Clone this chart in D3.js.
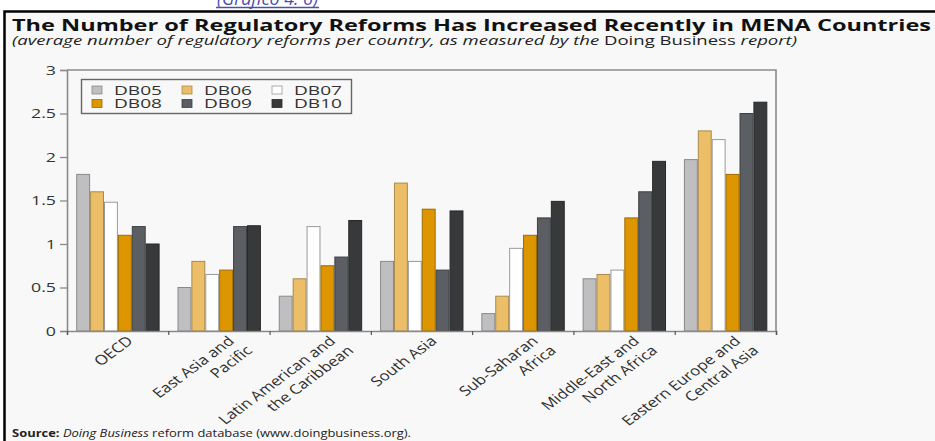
<!DOCTYPE html>
<html>
<head>
<meta charset="utf-8">
<script src="https://cdn.jsdelivr.net/npm/d3@7"></script>
<style>
  html, body { margin: 0; padding: 0; background: #ffffff; }
  svg { display: block; }
  text { font-family: "Open Sans", "Noto Sans", sans-serif; }
</style>
</head>
<body>
<svg id="chart" width="935" height="441"></svg>
<script>
// ---------------- data ----------------
const categories = [
  "OECD",
  "East Asia and\nPacific",
  "Latin American and\nthe Caribbean",
  "South Asia",
  "Sub-Saharan\nAfrica",
  "Middle-East and\nNorth Africa",
  "Eastern Europe and\nCentral Asia"
];
const seriesNames = ["DB05", "DB06", "DB07", "DB08", "DB09", "DB10"];
const DB05 = [1.8, 0.5, 0.4, 0.8, 0.2, 0.6, 1.97];
const DB06 = [1.6, 0.8, 0.6, 1.7, 0.4, 0.65, 2.3];
const DB07 = [1.48, 0.65, 1.2, 0.8, 0.95, 0.7, 2.2];
const DB08 = [1.1, 0.7, 0.75, 1.4, 1.1, 1.3, 1.8];
const DB09 = [1.2, 1.2, 0.85, 0.7, 1.3, 1.6, 2.5];
const DB10 = [1.0, 1.21, 1.27, 1.38, 1.49, 1.95, 2.63];
const yTicks = [0, 0.5, 1, 1.5, 2, 2.5, 3];

const title = "The Number of Regulatory Reforms Has Increased Recently in MENA Countries";
const subtitleParts = [
  ["(average number of regulatory reforms per country, as measured by the ", "italic"],
  ["Doing Business", "normal"],
  [" report)", "italic"]
];
const sourceParts = [
  ["Source:", "bold"],
  [" ", "normal"],
  ["Doing Business", "italic"],
  [" reform database (www.doingbusiness.org).", "normal"]
];
const topNote = "(Gráfico 4. 6)";

// ---------------- styles ----------------
const seriesValues = [DB05, DB06, DB07, DB08, DB09, DB10];
const fills   = ["#bfbfc1", "#ecbe68", "#ffffff", "#dd9500", "#5b5e62", "#38393b"];
const strokes = ["#8a8a8c", "#a88a4c", "#9a9a9a", "#a06c00", "#3e4043", "#27282a"];
const SX = 1.42;   // horizontal stretch of the original picture text
const LSX = 1.25;  // stretch of the rotated category labels

const svg = d3.select("#chart");

// top (cut-off) blue note
svg.append("text")
  .attr("x", 217).attr("y", 5)
  .attr("font-size", 19).attr("font-style", "italic")
  .attr("fill", "#4b4fae")
  .attr("textLength", 101).attr("lengthAdjust", "spacingAndGlyphs")
  .text(topNote);
svg.append("line").attr("x1", 216).attr("x2", 319).attr("y1", 7.5).attr("y2", 7.5)
  .attr("stroke", "#4b4fae").attr("stroke-width", 1.3);

// framed panel
svg.append("rect")
  .attr("x", 4.5).attr("y", 11.5).attr("width", 960).attr("height", 460)
  .attr("fill", "#f8f8f8").attr("stroke", "#000").attr("stroke-width", 2.5);

// title
svg.append("text")
  .attr("x", 12).attr("y", 30.5)
  .attr("font-size", 15.5).attr("font-weight", 700).attr("fill", "#111")
  .attr("textLength", 919).attr("lengthAdjust", "spacingAndGlyphs")
  .text(title);

// subtitle
const sub = svg.append("text")
  .attr("x", 12).attr("y", 44.5)
  .attr("font-size", 12.5).attr("fill", "#222")
  .attr("textLength", 785).attr("lengthAdjust", "spacingAndGlyphs");
subtitleParts.forEach(([t, s]) => sub.append("tspan").attr("font-style", s).text(t));

// source
const src = svg.append("text")
  .attr("x", 12).attr("y", 437)
  .attr("font-size", 10.5).attr("fill", "#222")
  .attr("textLength", 399).attr("lengthAdjust", "spacingAndGlyphs");
sourceParts.forEach(([t, s]) => {
  const ts = src.append("tspan").text(t);
  if (s === "bold") ts.attr("font-weight", 700);
  if (s === "italic") ts.attr("font-style", "italic");
});

// ---------------- scales ----------------
const plot = { left: 67, right: 776, top: 70, bottom: 331 };
const x0 = d3.scaleBand().domain(categories).range([plot.left, plot.right]).padding(0);
const x1 = d3.scaleBand().domain(seriesNames).range([9.2, 92.6]).padding(0);
const y = d3.scaleLinear().domain([0, 3]).range([plot.bottom, plot.top]);

// plot frame (top & right)
svg.append("path")
  .attr("d", `M${plot.left},${plot.top}H${plot.right}V${plot.bottom}`)
  .attr("fill", "none").attr("stroke", "#8a8a8a").attr("stroke-width", 1.6);

// bars
const groups = svg.append("g").selectAll("g")
  .data(categories).join("g")
  .attr("transform", d => `translate(${x0(d)},0)`);
groups.selectAll("rect")
  .data((d, i) => seriesNames.map((s, j) => ({ s, j, v: seriesValues[j][i] })))
  .join("rect")
  .attr("x", d => x1(d.s) + 0.5)
  .attr("width", x1.bandwidth() - 1)
  .attr("y", d => y(d.v))
  .attr("height", d => y(0) - y(d.v))
  .attr("fill", d => fills[d.j])
  .attr("stroke", d => strokes[d.j])
  .attr("stroke-width", 1);

// y axis
const yAxis = svg.append("g")
  .attr("transform", `translate(${plot.left},0)`)
  .call(d3.axisLeft(y).tickValues(yTicks).tickFormat(d3.format("~g")).tickSize(7).tickPadding(4));
yAxis.select(".domain").attr("stroke", "#8a8a8a").attr("stroke-width", 1.6);
yAxis.selectAll(".tick line").attr("stroke", "#8a8a8a").attr("stroke-width", 1.3);
yAxis.selectAll(".tick text")
  .attr("font-size", 12.5).attr("fill", "#333")
  .attr("font-family", "'Open Sans', sans-serif")
  .attr("x", -11 / SX)
  .attr("transform", `scale(${SX},1)`);

// x axis (boundary ticks)
const xb = d3.scaleLinear().domain([0, categories.length]).range([plot.left, plot.right]);
const xAxis = svg.append("g")
  .attr("transform", `translate(0,${plot.bottom})`)
  .call(d3.axisBottom(xb).tickValues(d3.range(categories.length + 1)).tickFormat("").tickSize(4));
xAxis.select(".domain").attr("stroke", "#8a8a8a").attr("stroke-width", 1.6);
xAxis.selectAll(".tick line").attr("stroke", "#555").attr("stroke-width", 1.2);

// category labels (rotated, stretched)
const lab = svg.append("g").selectAll("g")
  .data(categories).join("g")
  .attr("transform", d => `translate(${x0(d) + x0.bandwidth() / 2 + 8},${plot.bottom + 4}) scale(${LSX},1) rotate(-43)`);
lab.each(function(d) {
  const lines = d.split("\n");
  const t = d3.select(this).append("text")
    .attr("text-anchor", "end").attr("font-size", 13.5).attr("fill", "#2e2e2e");
  lines.forEach((ln, i) => {
    t.append("tspan").attr("x", i === 0 ? 0 : 4).attr("y", 0)
      .attr("dy", (0.72 + i * 1.25) + "em").text(ln);
  });
});

// legend
const lg = svg.append("g");
lg.append("rect").attr("x", 81.5).attr("y", 79.5).attr("width", 270).attr("height", 34)
  .attr("fill", "none").attr("stroke", "#666").attr("stroke-width", 1.4);
const legendCols = [92, 182, 272];
const legendRows = [90, 103.5];
seriesNames.forEach((s, j) => {
  const cx = legendCols[j % 3], cy = legendRows[Math.floor(j / 3)];
  lg.append("rect").attr("x", cx).attr("y", cy - 4).attr("width", 10).attr("height", 8)
    .attr("fill", fills[j]).attr("stroke", strokes[j]).attr("stroke-width", 0.8);
  lg.append("text").attr("x", cx + 22).attr("y", cy + 4.6)
    .attr("font-size", 12.5).attr("fill", "#333")
    .attr("textLength", 48).attr("lengthAdjust", "spacingAndGlyphs")
    .text(s);
});
</script>
</body>
</html>
